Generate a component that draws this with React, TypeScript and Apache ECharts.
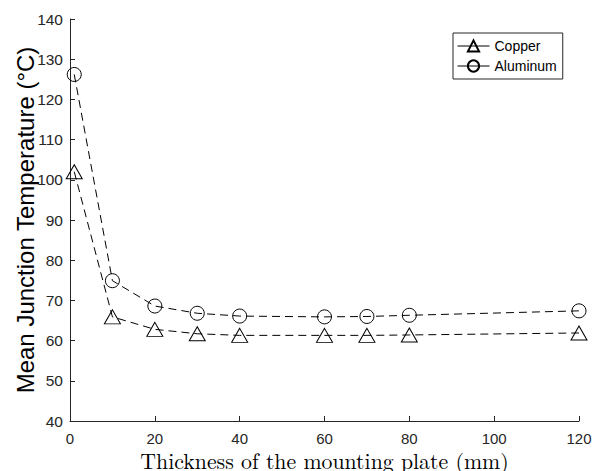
import React, { useEffect, useRef } from "react";
import * as echarts from "echarts";

const thickness = [1, 10, 20, 30, 40, 60, 70, 80, 120];
const copper = [102, 65.9, 62.8, 61.7, 61.3, 61.3, 61.3, 61.4, 61.9];
const aluminum = [126.2, 74.9, 68.6, 66.8, 66.1, 65.9, 66.0, 66.3, 67.4];
const seriesNames = ["Copper", "Aluminum"];

export default function App() {
  const ref = useRef<HTMLDivElement>(null);
  useEffect(() => {
    const chart = echarts.init(ref.current!, null, { renderer: "svg" });
    const axisColor = "#262626";
    const mk = (name: string, vals: number[], symbol: string, size: any) => ({
      name,
      type: "line",
      data: thickness.map((x, i) => [x, vals[i]]),
      symbol,
      symbolSize: size,
      showSymbol: true,
      itemStyle: { color: "rgba(0,0,0,0)", borderColor: "#000", borderWidth: 1 },
      lineStyle: { color: "#000", width: 1, type: [8, 5] },
      emphasis: { disabled: true },
    });
    chart.setOption({
      animation: false,
      backgroundColor: "#fff",
      grid: { left: 70, right: 15, top: 19, bottom: 50, outerBoundsMode: "none", containLabel: false },
      legend: {
        orient: "vertical",
        left: 453,
        top: 33,
        padding: [6, 6, 6, 4],
        itemGap: 6,
        itemWidth: 32,
        itemHeight: 14,
        borderColor: axisColor,
        borderWidth: 1,
        backgroundColor: "#fff",
        textStyle: { fontFamily: "Liberation Sans, Arial", fontSize: 14, color: "#000" },
        lineStyle: { type: "solid", width: 1, color: "#000" },
        data: seriesNames,
      },
      xAxis: {
        type: "value",
        min: 0,
        max: 120,
        interval: 20,
        name: "Thickness of the mounting plate (mm)",
        nameLocation: "middle",
        nameGap: 30,
        nameMoveOverlap: false,
        nameTextStyle: {
          fontFamily: "Latin Modern Roman, Liberation Serif, Times New Roman, serif",
          fontSize: 21.8,
          color: "#000",
          verticalAlign: "top",
          lineHeight: 16,
        },
        axisLine: { lineStyle: { color: axisColor, width: 1 } },
        axisTick: { inside: true, length: 5, lineStyle: { color: axisColor } },
        axisLabel: { fontFamily: "Liberation Sans, Arial", fontSize: 15, lineHeight: 14, color: axisColor, margin: 10 },
        splitLine: { show: false },
      },
      yAxis: {
        type: "value",
        min: 40,
        max: 140,
        interval: 10,
        name: "Mean Junction Temperature (°C)",
        nameLocation: "middle",
        nameGap: 33,
        nameMoveOverlap: false,
        nameTextStyle: { fontFamily: "Liberation Sans, Arial", fontSize: 24, color: "#000" },
        axisLine: { show: true, lineStyle: { color: axisColor, width: 1 } },
        axisTick: { show: true, inside: true, length: 5, lineStyle: { color: axisColor } },
        axisLabel: { fontFamily: "Liberation Sans, Arial", fontSize: 15.5, color: axisColor, margin: 7 },
        splitLine: { show: false },
      },
      series: [
        mk(seriesNames[0], copper, "triangle", [16, 14]),
        mk(seriesNames[1], aluminum, "circle", 14),
      ],
    });
    return () => chart.dispose();
  }, []);
  return <div ref={ref} style={{ width: 594, height: 471, position: "absolute", left: 0, top: 0 }} />;
}
